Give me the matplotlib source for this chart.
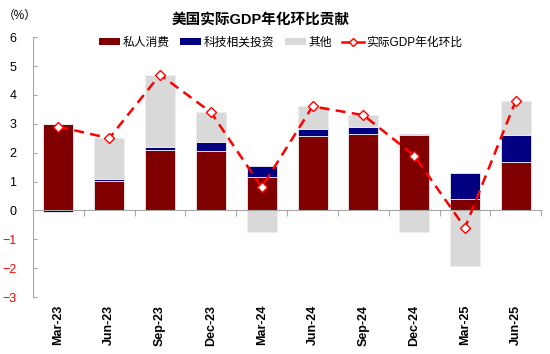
import numpy as np
import matplotlib
matplotlib.use("Agg")
import matplotlib.pyplot as plt
from matplotlib.patches import Patch
from matplotlib.lines import Line2D

plt.rcParams['font.family'] = ['Liberation Sans', 'Noto Sans CJK SC', 'DejaVu Sans']

quarters = ["Mar-23", "Jun-23", "Sep-23", "Dec-23", "Mar-24",
            "Jun-24", "Sep-24", "Dec-24", "Mar-25", "Jun-25"]
consumption = [3.0, 1.02, 2.09, 2.04, 1.16, 2.59, 2.65, 2.60, 0.38, 1.66]
tech = [-0.05, 0.08, 0.09, 0.34, 0.38, 0.23, 0.23, 0.05, 0.93, 0.96]
other = [0.0, 1.40, 2.52, 1.02, -0.76, 0.78, 0.42, -0.76, -1.93, 1.18]
gdp = [2.9, 2.5, 4.7, 3.4, 0.8, 3.6, 3.3, 1.9, -0.6, 3.8]

names = ["私人消费", "科技相关投资", "其他"]
colors = ["#800000", "#000080", "#D9D9D9"]

fig = plt.figure(figsize=(5.5, 3.54), dpi=100)
ax = fig.add_axes([0.06, 0.161, 0.924, 0.734])

x = np.arange(len(quarters))
pos_base = np.zeros(len(x))
neg_base = np.zeros(len(x))
for vals, c in zip([consumption, tech, other], colors):
    v = np.array(vals)
    base = np.where(v >= 0, pos_base, neg_base)
    ax.bar(x, v, 0.59, bottom=base, color=c, edgecolor="#EDEDED", linewidth=0.6, zorder=2)
    pos_base += np.where(v >= 0, v, 0)
    neg_base += np.where(v < 0, v, 0)

ax.plot(x, gdp, color="#FF0000", lw=1.8, ls=(0, (4, 2.5)), marker="D", ms=5,
        mfc="white", mec="#FF0000", mew=1.0, zorder=3)

ax.set_xlim(-0.5, len(x) - 0.5)
ax.set_ylim(-3, 6)
ax.set_yticks(range(-3, 7))
ax.tick_params(axis="y", direction="in", length=3, color="#A6A6A6", labelsize=9, pad=12)
for lab in ax.get_yticklabels():
    if float(lab.get_text().replace("\u2212", "-")) < 0:
        lab.set_color("#FF0000")

# zero line with ticks between categories
ax.spines["bottom"].set_position(("data", 0))
ax.spines["bottom"].set_color("#A6A6A6")
ax.spines["left"].set_color("#A6A6A6")
ax.spines["top"].set_visible(False)
ax.spines["right"].set_visible(False)
ax.set_xticks(np.arange(0.5, len(x), 1))
ax.tick_params(axis="x", direction="out", length=4, color="#A6A6A6", labelbottom=False)
for xi, q in zip(x, quarters):
    ax.text(xi, -0.03, q, transform=ax.get_xaxis_transform(), rotation=90,
            ha="center", va="top", fontsize=9, fontweight="bold")

fig.text(0.473, 1 - 20 / 354, "美国实际GDP年化环比贡献", ha="center", va="center",
         fontsize=10.5, fontweight="bold")
fig.text(0.036, 1 - 16 / 354, "（%）", ha="center", va="center", fontsize=8.5)

handles = [Patch(facecolor=c, edgecolor="none") for c in colors]
handles.append(Line2D([], [], color="#FF0000", lw=1.8, marker="D", ms=4.5,
                      mfc="white", mec="#FF0000"))
fig.legend(handles, names + ["实际GDP年化环比"], loc="center", ncol=4,
           bbox_to_anchor=(0.51, 1 - 43 / 354), frameon=False, fontsize=8.5,
           handlelength=1.8, handleheight=0.5, columnspacing=0.9, handletextpad=0.2)

fig.savefig("out.png", dpi=100)
